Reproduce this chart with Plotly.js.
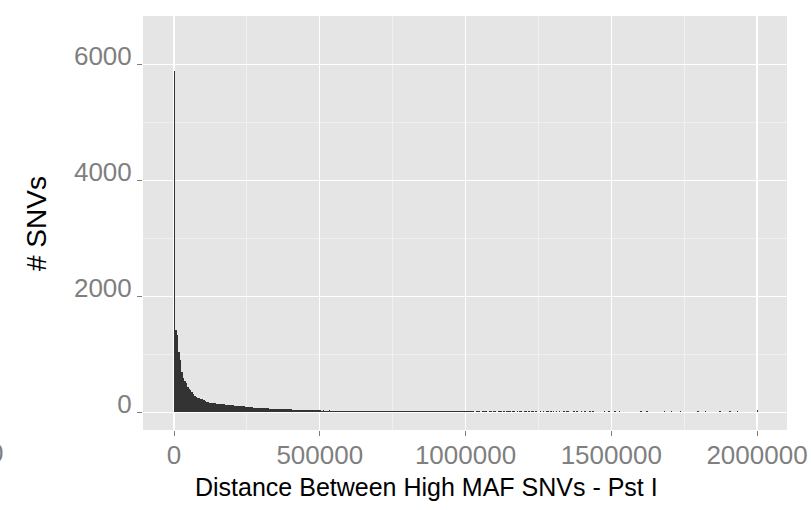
<!DOCTYPE html>
<html>
<head>
<meta charset="utf-8">
<script src="https://cdn.plot.ly/plotly-3.0.1.min.js"></script>
<style>
  html, body { margin: 0; padding: 0; background: #ffffff; }
  #chart { width: 811px; height: 510px; }
</style>
</head>
<body>
<div id="chart"></div>
<script>
// ---- data ----
const binWidth = 5000;

// counts for bins 0 .. 500000 (100 bins of 5000)
const countsNear = [
  5880, 1420, 1330, 1046, 900, 700, 590, 540, 500, 440,
  400, 378, 356, 316, 282, 268, 253, 243, 233, 224,
  210, 195, 185, 176, 167, 163, 160, 157, 154, 150,
  147, 144, 141, 138, 135, 131, 128, 124, 121, 119,
  118, 117, 116, 115, 115, 114, 112, 108, 104, 100,
  96, 92, 88, 85, 82, 80, 78, 76, 74, 72,
  71, 70, 68, 67, 66, 65, 64, 62, 61, 60,
  59, 58, 57, 56, 55, 54, 53, 52, 51, 50,
  49, 48, 47, 46, 45, 44, 43, 42, 42, 41,
  40, 39, 36, 35, 34, 34, 33, 33, 32, 32
];

// counts for bins 500000 .. 1000000 (100 bins of 5000)
const countsFar = [
  32, 31, 33, 30, 31, 30, 32, 30, 29, 31,
  30, 29, 28, 30, 29, 28, 29, 27, 28, 29,
  28, 27, 29, 27, 28, 26, 27, 28, 26, 27,
  27, 26, 25, 27, 26, 25, 26, 27, 25, 26,
  25, 26, 24, 25, 26, 24, 25, 24, 26, 25,
  24, 25, 23, 24, 25, 23, 24, 25, 23, 24,
  23, 24, 25, 23, 22, 24, 23, 23, 22, 24,
  23, 22, 23, 24, 22, 23, 22, 21, 23, 22,
  22, 23, 21, 22, 21, 23, 22, 21, 22, 21,
  21, 22, 20, 21, 22, 20, 21, 20, 21, 20
];

// sparse tail beyond 1,000,000: bin start (distance) and count
const tailStarts = [
  1000000, 1005000, 1010000, 1015000, 1020000, 1025000,
  1035000, 1040000, 1045000, 1055000, 1060000, 1065000, 1070000, 1080000, 1085000, 1095000,
  1100000, 1110000, 1115000, 1120000, 1130000, 1140000, 1145000, 1150000, 1160000, 1165000,
  1175000, 1185000, 1190000, 1200000, 1205000, 1215000, 1225000, 1230000, 1240000,
  1255000, 1265000, 1275000, 1280000, 1290000, 1300000, 1310000, 1320000, 1335000, 1345000,
  1350000, 1370000, 1380000, 1395000, 1405000, 1410000, 1425000, 1435000,
  1475000, 1490000, 1510000, 1525000, 1600000, 1620000, 1680000, 1705000, 1735000,
  1795000, 1820000, 1870000, 1905000, 1930000, 2000000
];
const tailCounts = [
  24, 22, 24, 21, 23, 21,
  21, 23, 20, 21, 24, 21, 20, 23, 21, 24,
  21, 20, 23, 21, 20, 24, 21, 20, 23, 21,
  21, 24, 20, 21, 23, 20, 21, 24, 20,
  21, 20, 23, 21, 20, 21, 24, 20, 21, 23,
  20, 21, 20, 23, 21, 20, 21, 20,
  21, 20, 21, 20, 21, 20, 21, 20, 21,
  20, 21, 20, 21, 20, 45
];

const yTicks = [0, 2000, 4000, 6000];
const xTicks = [0, 500000, 1000000, 1500000, 2000000];
const xTickText = ['0', '500000', '1000000', '1500000', '2000000'];
const xTitle = 'Distance Between High MAF SNVs - Pst I';
const yTitle = '# SNVs';

// ---- build bins ----
const xs = [], ys = [];
countsNear.forEach((c, i) => { xs.push(i * binWidth + binWidth / 2); ys.push(c); });
countsFar.forEach((c, i) => { xs.push(500000 + i * binWidth + binWidth / 2); ys.push(c); });
tailStarts.forEach((s, i) => { xs.push(s + binWidth / 2); ys.push(tailCounts[i]); });

const FONT = 'Liberation Sans, Arial, sans-serif';

const trace = {
  type: 'bar',
  x: xs,
  y: ys,
  width: binWidth,
  marker: { color: '#333333', line: { width: 0 } },
  hoverinfo: 'skip'
};

const layout = {
  width: 811,
  height: 510,
  margin: { l: 143, r: 24, t: 16, b: 80, pad: 0 },
  paper_bgcolor: '#ffffff',
  plot_bgcolor: '#E5E5E5',
  showlegend: false,
  bargap: 0,
  font: { family: FONT, size: 26, color: '#7F7F7F' },
  xaxis: {
    range: [-106350, 2102900],
    tickmode: 'array',
    tickvals: xTicks,
    ticktext: xTickText,
    ticks: 'outside',
    ticklen: 5,
    tickwidth: 1,
    tickcolor: '#7F7F7F',
    tickfont: { family: FONT, size: 26, color: '#7F7F7F' },
    ticklabelstandoff: -3,
    showgrid: true,
    gridcolor: '#FFFFFF',
    gridwidth: 1.4,
    zeroline: false,
    showline: false,
    minor: { tickvals: [250000, 750000, 1250000, 1750000], showgrid: true, gridcolor: '#F2F2F2', gridwidth: 0.8, ticks: '' },
    fixedrange: true
  },
  yaxis: {
    range: [-305, 6833],
    tickmode: 'array',
    tickvals: yTicks,
    ticks: 'outside',
    ticklen: 5,
    tickwidth: 1,
    tickcolor: '#7F7F7F',
    tickfont: { family: FONT, size: 26, color: '#7F7F7F' },
    ticklabelshift: -8,
    showgrid: true,
    gridcolor: '#FFFFFF',
    gridwidth: 1.4,
    zeroline: false,
    showline: false,
    minor: { tickvals: [1000, 3000, 5000], showgrid: true, gridcolor: '#F2F2F2', gridwidth: 0.8, ticks: '' },
    fixedrange: true
  },
  annotations: [
    {
      text: xTitle, xref: 'paper', yref: 'paper',
      x: (426 - 143) / 644, y: -(487 - 430) / 414,
      xanchor: 'center', yanchor: 'middle', showarrow: false,
      font: { family: FONT, size: 25, color: '#000000' }
    },
    {
      text: yTitle, xref: 'paper', yref: 'paper',
      x: (36 - 143) / 644, y: (430 - 224) / 414,
      xanchor: 'center', yanchor: 'middle', showarrow: false, textangle: -90,
      font: { family: FONT, size: 28, color: '#000000' }
    },
    {
      text: '0', xref: 'paper', yref: 'paper',
      x: (-4 - 143) / 644, y: -(453 - 430) / 414,
      xanchor: 'center', yanchor: 'middle', showarrow: false,
      font: { family: FONT, size: 26, color: '#7F7F7F' }
    }
  ]
};

Plotly.newPlot('chart', [trace], layout, { displayModeBar: false, staticPlot: true });
</script>
</body>
</html>
